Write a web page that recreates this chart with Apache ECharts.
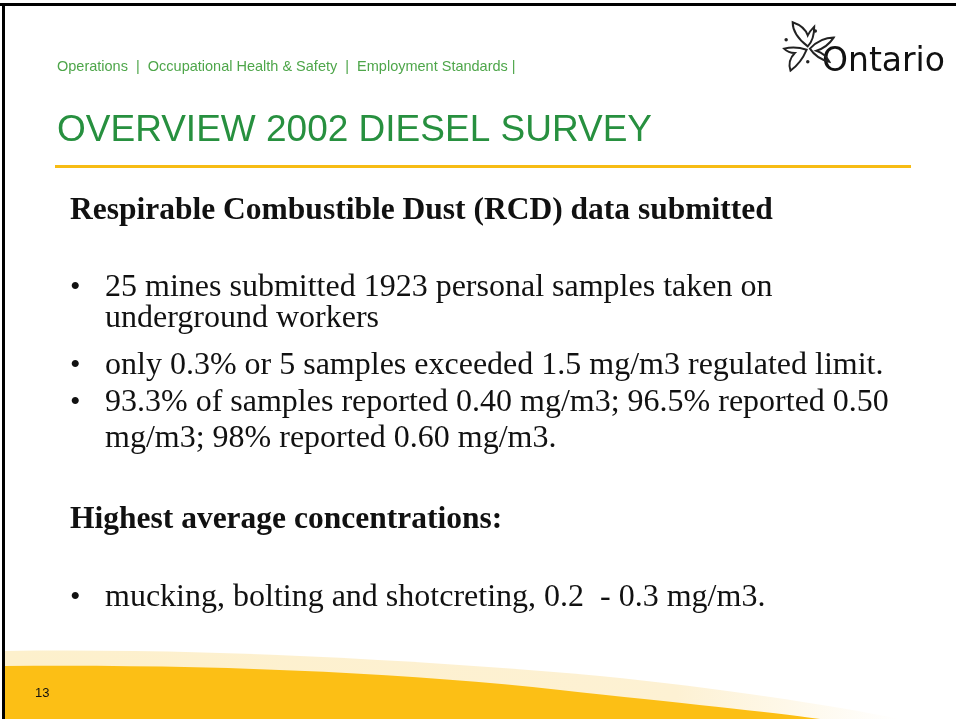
<!DOCTYPE html>
<html>
<head>
<meta charset="utf-8">
<script src="https://cdn.jsdelivr.net/npm/echarts@6/dist/echarts.min.js"></script>
<style>
  html, body { margin: 0; padding: 0; background: #fff; }
  #slide { width: 956px; height: 719px; }
</style>
</head>
<body>
<div id="slide"></div>
<script>
// slide texts
const navLinks = ['Operations', 'Occupational Health & Safety', 'Employment Standards']
const slideTitle = 'OVERVIEW 2002 DIESEL SURVEY'
const heading1 = 'Respirable Combustible Dust (RCD) data submitted'
const bullets1 = [
  ['25 mines submitted 1923 personal samples taken on', 'underground workers'],
  ['only 0.3% or 5 samples exceeded 1.5 mg/m3 regulated limit.'],
  ['93.3% of samples reported 0.40 mg/m3; 96.5% reported 0.50', 'mg/m3; 98% reported 0.60 mg/m3.']
]
const heading2 = 'Highest average concentrations:'
const bullets2 = [
  ['mucking, bolting and shotcreting, 0.2  - 0.3 mg/m3.']
]
const pageNumber = '13'

// custom shapes (swoosh + trillium)
const shapePaths = {
  swooshLight: 'M5,651 C200,648 420,660 600,676 C720,688 830,705 900,719 L5,719 Z',
  swooshMain: 'M5,666 C200,664 400,672 560,690 C680,703 770,712 820,719 L5,719 Z',
  petalTop: 'M22,24 C14,18 8,10 8,2 C14,4 20,8 22,14 C24,10 26,8 28,6 C28,14 26,20 22,24 Z',
  petalRight: 'M24,26 C30,20 38,16 46,16 C42,22 36,26 30,28 C36,30 40,34 42,38 C34,36 28,32 24,26 Z',
  petalLeft: 'M21,27 C18,34 12,42 6,46 C4,40 6,34 10,30 C6,30 2,28 0,26 C8,24 15,25 21,27 Z'
}
Object.keys(shapePaths).forEach(k => {
  echarts.graphic.registerShape(k, echarts.graphic.extendPath(shapePaths[k], {}))
})

const chart = echarts.init(document.getElementById('slide'))

const serif = '"Liberation Serif", "Times New Roman", serif'
const sans = '"Liberation Sans", Arial, sans-serif'

function textEl (x, y, text, font, fill) {
  return {
    type: 'text',
    x: x,
    y: y,
    style: { text: text, font: font, fill: fill, verticalAlign: 'middle' }
  }
}

// bullet blocks, one y per text line
function bulletEls (list, ys) {
  const els = []
  let k = 0
  list.forEach(lines => {
    els.push(textEl(70, ys[k], '\u2022', '30px ' + serif, '#111'))
    lines.forEach(ln => {
      els.push(textEl(105, ys[k], ln, '32px ' + serif, '#111'))
      k++
    })
  })
  return els
}

const petalStyle = { fill: 'none', stroke: '#222', lineWidth: 1.8 }

const graphic = [
  // frame (top and left)
  { type: 'rect', shape: { x: 0, y: 3, width: 956, height: 3 }, style: { fill: '#000' } },
  { type: 'rect', shape: { x: 2, y: 3, width: 3, height: 716 }, style: { fill: '#000' } },
  // bottom swoosh
  {
    type: 'swooshLight',
    style: {
      fill: new echarts.graphic.LinearGradient(0, 0, 1, 0, [
        { offset: 0, color: '#fdf0cc' },
        { offset: 0.75, color: '#fdf1d3' },
        { offset: 1, color: '#ffffff' }
      ])
    }
  },
  { type: 'swooshMain', style: { fill: '#fcbf15' } },
  textEl(35, 693, pageNumber, '13px ' + sans, '#111'),
  // nav line
  textEl(57, 67, navLinks.join('  |  ') + ' |', '14.5px ' + sans, '#4ea64a'),
  // title + rule
  textEl(57, 131, slideTitle, '37px ' + sans, '#27903f'),
  { type: 'rect', shape: { x: 55, y: 165, width: 856, height: 3 }, style: { fill: '#f7bc14' } },
  // headings
  textEl(70, 211, heading1, 'bold 31.5px ' + serif, '#111'),
  textEl(70, 520, heading2, 'bold 31.5px ' + serif, '#111'),
  // Ontario logo
  textEl(822, 62, 'Ontario', '33px "DejaVu Sans", sans-serif', '#111'),
  {
    type: 'group',
    x: 784,
    y: 20,
    scaleX: 1.08,
    scaleY: 1.1,
    children: [
      { type: 'petalTop', style: petalStyle },
      { type: 'petalRight', style: petalStyle },
      { type: 'petalLeft', style: petalStyle },
      { type: 'circle', shape: { cx: 29, cy: 10, r: 1.6 }, style: { fill: '#222' } },
      { type: 'circle', shape: { cx: 22, cy: 38, r: 1.6 }, style: { fill: '#222' } },
      { type: 'circle', shape: { cx: 2, cy: 18, r: 1.6 }, style: { fill: '#222' } }
    ]
  }
].concat(bulletEls(bullets1, [288, 319, 366, 403, 439]), bulletEls(bullets2, [598]))

chart.setOption({
  backgroundColor: '#fff',
  animation: false,
  graphic: graphic
})
</script>
</body>
</html>
